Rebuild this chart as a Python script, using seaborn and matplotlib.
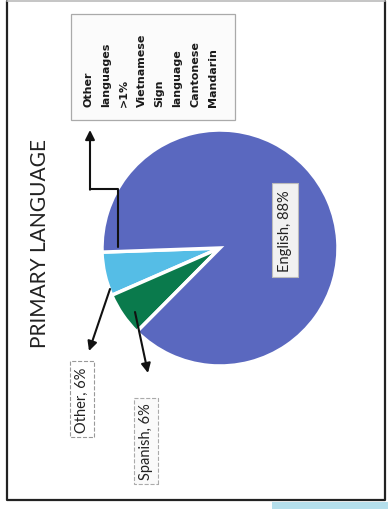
import matplotlib
matplotlib.use("Agg")
import matplotlib.pyplot as plt
import matplotlib.patches as mpatches
import seaborn as sns

# ── data ────────────────────────────────────────────────────
languages = ["Other", "Spanish", "English"]
shares = [6, 6, 88]
label_text = ["Other, 6%", "Spanish, 6%", "English, 88%"]
other_list = ["Other", "languages", ">1%", "Vietnamese", "Sign",
              "language", "Cantonese", "Mandarin"]
title = "PRIMARY LANGUAGE"

# ── setup ───────────────────────────────────────────────────
sns.set_theme(style="white")
plt.rcParams["font.family"] = ["Lato", "DejaVu Sans"]
colors = ["#55bde6", "#0a7a4c", "#5a68bf"]

W, H = 388, 510
fig = plt.figure(figsize=(W / 100, H / 100), dpi=100)
ax = fig.add_axes([0, 0, 1, 1])


def Y(y):  # picture rows run downward
    return H - y


# pie: small slices pulled out a little, white gaps between wedges
ax.pie(shares, colors=colors, startangle=182, counterclock=True,
       center=(220, Y(249)), radius=118, explode=[0.06, 0.06, 0],
       wedgeprops=dict(edgecolor="white", linewidth=2.5), frame=True)
ax.set_xlim(0, W)
ax.set_ylim(0, H)
ax.set_aspect("equal")
ax.axis("off")

# outer frame of the scanned page
ax.plot([7, 7, 385, 385], [Y(2), Y(501), Y(501), Y(2)], color="#222222", lw=1.6)
ax.plot([7, 385], [Y(1.5), Y(1.5)], color="#bbbbbb", lw=1.2)
ax.add_patch(mpatches.Rectangle((272, Y(510)), 116, 7, color="#b5dfec", lw=0))

# title
ax.text(40, Y(243), title, rotation=90, ha="center", va="center",
        fontsize=15, color="#222222")

# English label
ax.text(285, Y(231), label_text[2], rotation=90, ha="center", va="center",
        fontsize=10.5, color="#222222",
        bbox=dict(boxstyle="square,pad=0.4", fc="#f1f1f1", ec="#bcbcbc", lw=0.8))

# Other / Spanish labels
ax.text(82, Y(400), label_text[0], rotation=90, ha="center", va="center",
        fontsize=10.5, color="#222222",
        bbox=dict(boxstyle="square,pad=0.35", fc="white", ec="#999999", lw=0.8, ls="--"))
ax.text(146, Y(442), label_text[1], rotation=90, ha="center", va="center",
        fontsize=10.5, color="#222222",
        bbox=dict(boxstyle="square,pad=0.35", fc="#fafafa", ec="#aaaaaa", lw=0.8, ls="--"))

# other-languages box
ax.add_patch(mpatches.Rectangle((71, Y(121)), 164, 106, fc="#fbfbfb",
                                ec="#aaaaaa", lw=0.9))
for i, word in enumerate(other_list):
    ax.text(88 + i * 17.9, Y(107), word, rotation=90, ha="center", va="bottom",
            fontsize=8, fontweight="bold", color="#1a1a1a",
            family="DejaVu Sans")

arrow = dict(arrowstyle="-|>", color="#111111", lw=1.5, mutation_scale=14,
             shrinkA=0, shrinkB=0)

# elbow arrow to the other-languages box
ax.plot([118, 118, 90], [Y(248), Y(190), Y(190)], color="#111111", lw=1.5)
ax.annotate("", xy=(90, Y(131)), xytext=(90, Y(190.7)), arrowprops=arrow)

# arrows to the small-slice labels
ax.annotate("", xy=(89, Y(352)), xytext=(110, Y(290)), arrowprops=arrow)
ax.annotate("", xy=(148, Y(374)), xytext=(135, Y(313)), arrowprops=arrow)

plt.savefig("out.png", dpi=100)
